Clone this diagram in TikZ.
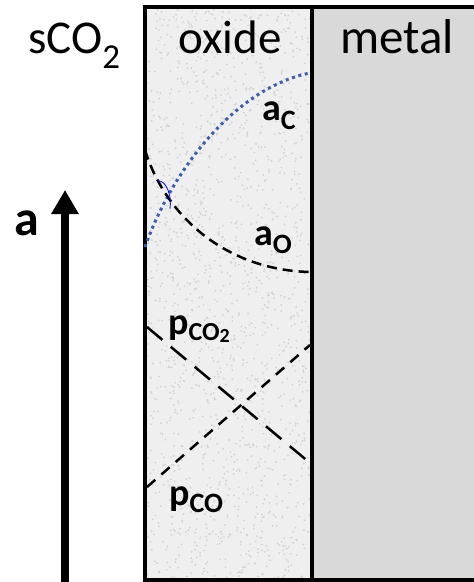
\documentclass[tikz,border=0pt]{standalone}
\usepackage{fontspec}
\setmainfont{Carlito}
\usetikzlibrary{arrows.meta}
\definecolor{metalgray}{HTML}{D9D9D9}
\definecolor{oxidegray}{HTML}{EFEFEF}
\definecolor{speck}{HTML}{D2D2D2}
\definecolor{dotblue}{HTML}{3A5DB5}
\begin{document}
\begin{tikzpicture}[x=1pt,y=-1pt,
  big/.style={font=\fontsize{47}{52}\selectfont, inner sep=0pt, anchor=base},
  lab/.style={font=\fontsize{38}{42}\selectfont\bfseries, inner sep=0pt, anchor=base},
  frame/.style={line width=4pt},
  dashA/.style={line width=2.5pt, dash pattern=on 10pt off 6pt},
  dashP/.style={line width=2.5pt, dash pattern=on 20pt off 11pt},
  dashQ/.style={line width=2.5pt, dash pattern=on 11pt off 8pt},
  dotC/.style={dotblue, line width=3pt, dash pattern=on 3pt off 3.6pt}]
\useasboundingbox (0,0) rectangle (474,582);
% regions
\fill[oxidegray] (145,6) rectangle (312,580);
\fill[metalgray] (312,6) rectangle (474,580);
\pgfmathsetseed{7}
\foreach \i in {1,...,1600}{
  \fill[speck] ({147+163*rnd},{9+569*rnd}) circle (1pt);
}
% frame
\coordinate (tl) at (145,6.5);
\coordinate (tr) at (474,6.5);
\coordinate (bl) at (145,579.5);
\coordinate (br) at (474,579.5);
\coordinate (dt) at (312,6.5);
\coordinate (db) at (312,579.5);
\draw[frame] (tr) -- (tl) -- (bl) -- (br);
\draw[frame] (dt) -- (db);
% headings
\node[big, anchor=base west] (sco) at (28,53) {sCO\raisebox{-0.34em}{\fontsize{35}{35}\selectfont 2}};
\node[big] (oxide) at (230,53) {oxide};
\node[big, font=\fontsize{49}{54}\selectfont] (metal) at (397,53) {metal};
% curves
\coordinate (c1) at (145,247);
\coordinate (c2) at (310,73);
\draw[dotC] (c1) .. controls (172,170) and (235,88) .. (c2);
\coordinate (o1) at (145,150);
\coordinate (o2) at (310,272);
\draw[dashA] (o1) .. controls (165,215) and (225,270) .. (o2);
\coordinate (m1) at (158,181);
\coordinate (m2) at (170,209);
\draw[blue, line width=0.8pt] (m1) .. controls (166,180) and (172,195) .. (m2);
\coordinate (p1) at (147,327);
\coordinate (p2) at (310,463);
\draw[dashP] (p1) -- (p2);
\coordinate (q1) at (147,487);
\coordinate (q2) at (310,345);
\draw[dashQ] (q1) -- (q2);
% labels
\node[lab, anchor=base west] (aC) at (262,120) {a\raisebox{-0.25em}{\fontsize{28}{28}\selectfont C}};
\node[lab, anchor=base west] (aO) at (254,245) {a\raisebox{-0.22em}{\fontsize{28}{28}\selectfont O}};
\node[lab, anchor=base west] (pCO2) at (168,334) {p\raisebox{-0.18em}{\fontsize{26}{26}\selectfont CO\raisebox{-0.05em}{\fontsize{20}{20}\selectfont 2}}};
\node[lab, anchor=base west] (pCO) at (169,505) {p\raisebox{-0.2em}{\fontsize{28}{28}\selectfont CO}};
% axis
\node[lab, font=\fontsize{50}{55}\selectfont\bfseries] (abig) at (27,235) {a};
\coordinate (ab) at (65,582);
\coordinate (at) at (65,190);
\draw[line width=8pt, -{Triangle[length=24pt,width=26pt]}] (ab) -- (at);
\end{tikzpicture}
\end{document}
